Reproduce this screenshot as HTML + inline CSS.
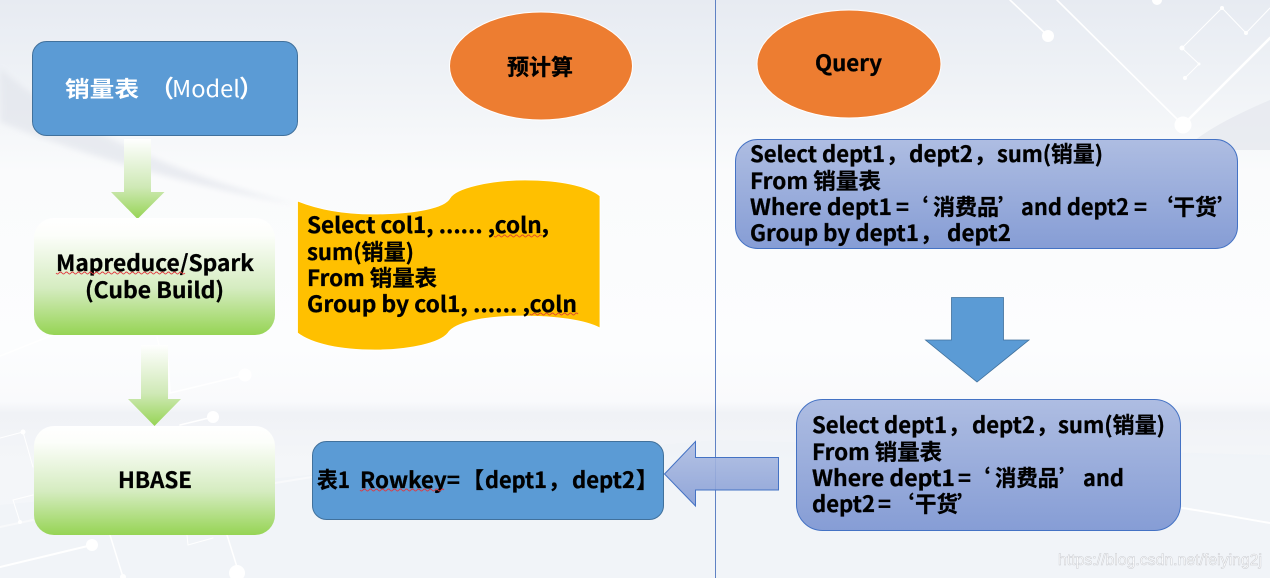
<!DOCTYPE html>
<html lang="zh-CN">
<head>
<meta charset="utf-8">
<style>
html,body{margin:0;padding:0;background:#fff}
svg{display:block}
text{font-family:"Noto Sans CJK SC","Liberation Sans",sans-serif;font-weight:700;font-size:22px;fill:#000;stroke:#000;stroke-width:.3px}
.w{fill:#fff;stroke:none}
</style>
</head>
<body>
<svg width="1270" height="578" viewBox="0 0 1270 578" xmlns="http://www.w3.org/2000/svg">
<defs>
<linearGradient id="bg" x1="0" y1="0" x2="0" y2="1">
<stop offset="0" stop-color="#e7ebf2"/><stop offset=".14" stop-color="#eff2f6"/><stop offset=".3" stop-color="#fafbfc"/>
<stop offset=".6" stop-color="#fcfdfe"/><stop offset=".695" stop-color="#f9fafc"/><stop offset=".715" stop-color="#f0f2f6"/><stop offset=".8" stop-color="#f4f6f9"/><stop offset="1" stop-color="#f4f6fa"/>
</linearGradient>
<linearGradient id="gr" x1="0" y1="0" x2="0" y2="1">
<stop offset="0" stop-color="#fff"/><stop offset=".15" stop-color="#fcfefa"/><stop offset=".6" stop-color="#d5ecc0"/><stop offset="1" stop-color="#96d454"/>
</linearGradient>
<linearGradient id="ga" gradientUnits="objectBoundingBox" x1="0" y1="0" x2="0" y2="1">
<stop offset="0" stop-color="#fff"/><stop offset=".6" stop-color="#cfe9b6"/><stop offset="1" stop-color="#96d454"/>
</linearGradient>
<linearGradient id="pu" x1="0" y1="0" x2="0" y2="1">
<stop offset="0" stop-color="#aebde2"/><stop offset="1" stop-color="#869dd5"/>
</linearGradient>
<linearGradient id="pa" x1="0" y1="0" x2="0" y2="1">
<stop offset="0" stop-color="#aebde2" stop-opacity=".9"/><stop offset="1" stop-color="#869dd5" stop-opacity=".9"/>
</linearGradient>
<filter id="soft" x="-10%" y="-20%" width="120%" height="140%"><feGaussianBlur stdDeviation="3"/></filter>
</defs>

<rect width="1270" height="578" fill="url(#bg)"/>

<!-- background swooshes -->
<path d="M0 68C50 115 170 175 300 205C180 185 70 150 0 122Z" fill="#e1e4eb" opacity=".65" filter="url(#soft)"/>
<path d="M1270 100C1235 115 1205 130 1183 150L1270 150Z" fill="#e6e9ef" opacity=".8"/>
<path d="M0 505L340 472L716 440L1270 455L1270 578L0 578Z" fill="#eef1f6" opacity=".45"/>
<g fill="none" stroke="#fff" stroke-linecap="round">
<path d="M1010 0L1048 36M1057 0L1183 125" stroke-width="1.6"/>
<path d="M1183 125L1270 38" stroke-width="2.6"/>
<path d="M1270 8L1246 33L1222 8L1182 48L1199 64L1185 78" stroke-width="1"/>
<path d="M1182 508C1210 512 1240 518 1270 523" stroke-width="2"/>
<path d="M0 567L92 545" stroke-width="2"/>
<path d="M110 535L123 577M227 535L237 567" stroke-width="1.5"/>
<path d="M187 535L188 545L213 538" stroke-width="1"/>
<path d="M168 360L170 393L245 375M180 425L213 417" stroke-width="1.6"/>
<path d="M0 438L23 432L33 467M33 495L13 500L20 522" stroke-width="1"/>
<path d="M0 527L33 520M275 483L312 477" stroke-width="2" stroke="#f8f9fb"/>
<path d="M0 356L53 335M157 337L167 377" stroke-width="1.5"/>
</g>
<g fill="#fff">
<circle cx="1048" cy="36" r="6"/><circle cx="1183" cy="125" r="8.5"/><circle cx="1157" cy="0" r="5"/>
<circle cx="1222" cy="8" r="2"/><circle cx="1246" cy="33" r="2"/><circle cx="1182" cy="48" r="2.5"/><circle cx="1199" cy="64" r="1.5"/><circle cx="1185" cy="78" r="2"/>
<circle cx="92" cy="545" r="6"/><circle cx="237" cy="573" r="8"/><circle cx="245" cy="375" r="6.5"/><circle cx="213" cy="417" r="6"/><circle cx="23" cy="432" r="2.5"/><circle cx="123" cy="577" r="3"/><circle cx="20" cy="522" r="2"/>
</g>

<!-- divider -->
<line x1="715.5" y1="0" x2="715.5" y2="578" stroke="#5f82c4" stroke-width="1"/>

<!-- ellipses -->
<ellipse cx="541" cy="66" rx="91.5" ry="54" fill="#ed7d31" stroke="#fff" stroke-width="1"/>
<ellipse cx="849" cy="64" rx="92" ry="54" fill="#ed7d31" stroke="#fff" stroke-width="1"/>
<text x="507" y="75" textLength="66" lengthAdjust="spacingAndGlyphs">预计算</text>
<text x="815" y="71" textLength="67" lengthAdjust="spacingAndGlyphs">Query</text>

<!-- model -->
<rect x="32.5" y="41.5" width="265" height="94" rx="14" fill="#5b9bd5" stroke="#41719c"/>
<text class="w" x="65" y="97" textLength="74" lengthAdjust="spacingAndGlyphs">销量表</text>
<text class="w" x="150" y="97" style="font-size:24px">&#xFF08;</text>
<text class="w" x="172" y="97" style="font-weight:400;font-size:23px" textLength="68" lengthAdjust="spacingAndGlyphs">Model</text>
<text class="w" x="239" y="97" style="font-size:24px">&#xFF09;</text>

<!-- green arrows -->
<path d="M124 139H151V192H164.500L137.500 219L111 192H124Z" fill="url(#ga)"/>
<path d="M141 345H168V399H181L154.500 426L128 399H141Z" fill="url(#ga)"/>

<!-- green boxes -->
<rect x="34" y="218" width="241" height="117" rx="20" fill="url(#gr)"/>
<rect x="34" y="426" width="241" height="109" rx="20" fill="url(#gr)"/>
<text x="56" y="271" textLength="198" lengthAdjust="spacingAndGlyphs">Mapreduce/Spark</text>
<text x="85" y="298" textLength="139" lengthAdjust="spacingAndGlyphs">(Cube Build)</text>
<text x="118" y="488" textLength="74" lengthAdjust="spacingAndGlyphs">HBASE</text>
<path d="M56 273q1.500 2 3 0t3 0t3 0t3 0t3 0t3 0t3 0t3 0t3 0t3 0t3 0t3 0t3 0t3 0t3 0t3 0t3 0t3 0t3 0t3 0t3 0t3 0t3 0t3 0t3 0t3 0t3 0t3 0t3 0t3 0t3 0t3 0t3 0t3 0t3 0t3 0t3 0t3 0t3 0t3 0t3 0t3 0t3 0" fill="none" stroke="#e0393e" stroke-width=".9"/>

<!-- wave -->
<path d="M297.500 201C320 210 345 214 373 214C415 214 445 208 450 198C456 188 490 180 525 180C560 180 588 186 600 196V328C585 320 555 316 523 316C485 316 455 322 448 333C440 343 410 350 375 350C340 350 312 344 297.500 333Z" fill="#ffc000" stroke="#fff" stroke-width=".8"/>
<text x="307" y="233" textLength="242" lengthAdjust="spacingAndGlyphs">Select col1, ...... ,coln,</text>
<text x="307" y="260" textLength="107" lengthAdjust="spacingAndGlyphs">sum(销量)</text>
<text x="307" y="286" textLength="130" lengthAdjust="spacingAndGlyphs">From 销量表</text>
<text x="307" y="312" textLength="270" lengthAdjust="spacingAndGlyphs">Group by col1, ...... ,coln</text>
<path d="M494 236q1.500 2 3 0t3 0t3 0t3 0t3 0t3 0t3 0t3 0t3 0t3 0t3 0t3 0t3 0t3 0t3 0t3 0" fill="none" stroke="#e04a2a" stroke-width=".9"/>
<path d="M530 314q1.500 2 3 0t3 0t3 0t3 0t3 0t3 0t3 0t3 0t3 0t3 0t3 0t3 0t3 0t3 0t3 0t3 0" fill="none" stroke="#e04a2a" stroke-width=".9"/>

<!-- table box -->
<rect x="312.500" y="441.500" width="351" height="78" rx="14" fill="#5b9bd5" stroke="#41719c"/>
<text x="317" y="488" textLength="33" lengthAdjust="spacingAndGlyphs">表1</text>
<text x="360" y="488" textLength="100" lengthAdjust="spacingAndGlyphs">Rowkey=</text>
<text x="462" y="488">&#x3010;</text>
<text x="485" y="488" textLength="62" lengthAdjust="spacingAndGlyphs">dept1</text>
<text x="548" y="488">&#xFF0C;</text>
<text x="572" y="488" textLength="63" lengthAdjust="spacingAndGlyphs">dept2</text>
<text x="636" y="488">&#x3011;</text>
<path d="M360 490q1.500 2 3 0t3 0t3 0t3 0t3 0t3 0t3 0t3 0t3 0t3 0t3 0t3 0t3 0t3 0t3 0t3 0t3 0t3 0t3 0t3 0t3 0t3 0t3 0t3 0t3 0t3 0t3 0t3 0" fill="none" stroke="#e0393e" stroke-width=".9"/>

<!-- left arrow -->
<path d="M664.500 474L695.500 441.500V457.500H778.500V490H695.500V506Z" fill="url(#pa)" stroke="#4472c4" stroke-width="1"/>

<!-- query boxes -->
<rect x="735.500" y="139.500" width="502" height="109" rx="22" fill="url(#pu)" stroke="#4472c4"/>
<text x="750" y="162" textLength="135" lengthAdjust="spacingAndGlyphs">Select dept1</text>
<text x="886" y="162">&#xFF0C;</text>
<text x="909" y="162" textLength="64" lengthAdjust="spacingAndGlyphs">dept2</text>
<text x="974" y="162">&#xFF0C;</text>
<text x="997" y="162" textLength="106" lengthAdjust="spacingAndGlyphs">sum(销量)</text>
<text x="750" y="189" textLength="131" lengthAdjust="spacingAndGlyphs">From 销量表</text>
<text x="750" y="215" textLength="142" lengthAdjust="spacingAndGlyphs">Where dept1</text>
<text x="896" y="215">=</text>
<text x="906" y="215">‘</text>
<text x="933" y="215" textLength="66" lengthAdjust="spacingAndGlyphs">消费品</text>
<text x="998" y="215">’</text>
<text x="1021" y="215" textLength="108" lengthAdjust="spacingAndGlyphs">and dept2</text>
<text x="1134" y="215">=</text>
<text x="1151" y="215">‘</text>
<text x="1173" y="215" textLength="44" lengthAdjust="spacingAndGlyphs">干货</text>
<text x="1217" y="215">’</text>
<text x="750" y="241" textLength="169" lengthAdjust="spacingAndGlyphs">Group by dept1</text>
<text x="920" y="241">&#xFF0C;</text>
<text x="947" y="241" textLength="64" lengthAdjust="spacingAndGlyphs">dept2</text>

<!-- blue arrow -->
<path d="M951.500 297.500H1003.500V340H1029L977 382L925.500 340H951.500Z" fill="#5b9bd5" stroke="#41719c" stroke-width=".8"/>

<rect x="796.500" y="399.500" width="384" height="131" rx="26" fill="url(#pu)" stroke="#4472c4"/>
<text x="812" y="433" textLength="135" lengthAdjust="spacingAndGlyphs">Select dept1</text>
<text x="948" y="433">&#xFF0C;</text>
<text x="972" y="433" textLength="63" lengthAdjust="spacingAndGlyphs">dept2</text>
<text x="1036" y="433">&#xFF0C;</text>
<text x="1058" y="433" textLength="107" lengthAdjust="spacingAndGlyphs">sum(销量)</text>
<text x="812" y="460" textLength="130" lengthAdjust="spacingAndGlyphs">From 销量表</text>
<text x="812" y="486" textLength="143" lengthAdjust="spacingAndGlyphs">Where dept1</text>
<text x="958" y="486">=</text>
<text x="968" y="486">‘</text>
<text x="995" y="486" textLength="64" lengthAdjust="spacingAndGlyphs">消费品</text>
<text x="1059" y="486">’</text>
<text x="1083" y="486" textLength="41" lengthAdjust="spacingAndGlyphs">and</text>
<text x="812" y="512" textLength="63" lengthAdjust="spacingAndGlyphs">dept2</text>
<text x="878" y="512">=</text>
<text x="892" y="512">‘</text>
<text x="915" y="512" textLength="43" lengthAdjust="spacingAndGlyphs">干货</text>
<text x="957" y="512">’</text>

<!-- watermark -->
<text x="1058" y="565" textLength="204" lengthAdjust="spacingAndGlyphs" style="font-family:'Liberation Sans',sans-serif;font-weight:400;font-size:16px;fill:#fff;stroke:#c9cbd0;stroke-width:.5px">https://blog.csdn.net/feiying2j</text>
</svg>
</body>
</html>
